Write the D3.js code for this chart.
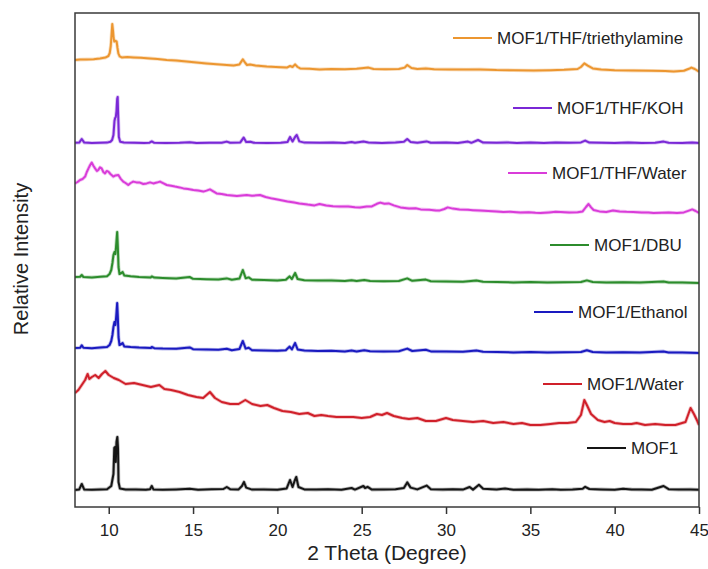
<!DOCTYPE html>
<html>
<head>
<meta charset="utf-8">
<script src="https://cdn.jsdelivr.net/npm/d3@7"></script>
<style>
  html, body { margin: 0; padding: 0; background: #fff; }
  svg { display: block; font-family: "Liberation Sans", Arial, Helvetica, sans-serif; }
</style>
</head>
<body>
<svg id="chart" width="708" height="569"></svg>
<script>
// Stacked powder XRD patterns, [2θ (deg), relative intensity (a.u.)]
const mof1 = [[8,0],[8.25,0.3],[8.4,3],[8.55,0.2],[9,0.1],[9.5,0.3],[9.9,0.4],[10.15,2],[10.28,8],[10.33,21],[10.38,21.5],[10.42,14],[10.46,24],[10.51,26.5],[10.55,21],[10.58,4],[10.66,0.8],[11,0.2],[11.6,0.3],[12.2,0.1],[12.45,0.4],[12.55,2],[12.65,0.3],[13.2,0.1],[14,0.3],[14.8,0.6],[15.3,0.1],[16.1,0.4],[16.8,0.5],[17.0,1.5],[17.2,0.4],[17.7,0.3],[17.9,2],[18.02,4],[18.15,1.2],[18.5,0.2],[19.2,0.3],[20,0.1],[20.55,0.8],[20.75,5],[20.9,1.5],[21.02,4.5],[21.12,6.5],[21.25,1.5],[21.6,0.3],[22.3,0.2],[23,0.4],[23.8,0.1],[24.4,1],[24.6,0.2],[25.1,2],[25.2,1],[25.35,1.6],[25.6,0.2],[26.3,0.3],[27,0.4],[27.5,1],[27.7,3.8],[27.9,1.2],[28.3,0.3],[28.85,2.2],[29.1,0.4],[29.8,0.2],[30.4,0.4],[31,0.2],[31.4,1.5],[31.6,0.2],[31.95,2.6],[32.2,0.6],[33,0.3],[33.5,0.7],[34,0.1],[34.8,0.3],[35.5,0.1],[36.3,0.4],[36.8,0.1],[37.5,0.3],[38.1,0.6],[38.25,1.6],[38.5,0.5],[39.2,0.3],[40,0.1],[40.5,0.6],[41,0.3],[41.6,0.2],[42.2,0.1],[42.9,2],[43.2,0.4],[43.8,0.2],[44.5,0.3],[45,0.1]];

const mof1Water = [[8,16.5],[8.2,18],[8.4,20.5],[8.6,23],[8.75,26],[8.85,23.5],[9,24.5],[9.2,25.5],[9.4,24],[9.6,26],[9.8,27.5],[10,25.5],[10.3,24],[10.6,23],[11,21],[11.5,21.5],[12,20.5],[12.5,19.5],[13,20.5],[13.3,18.5],[13.7,18],[14.2,17],[14.7,15.5],[15.2,14.5],[15.6,14],[16,17],[16.3,14],[16.7,12],[17.2,11],[17.7,11],[18.1,13],[18.5,11],[19,10],[19.4,10.5],[19.8,9],[20.3,7.5],[20.8,7],[21.3,6],[21.8,6.5],[22.2,5],[22.6,5.5],[23,5],[23.5,4.5],[24,4.5],[24.5,4.5],[25,4],[25.5,4.5],[25.9,6],[26.2,5.5],[26.5,6.5],[26.9,5],[27.4,4],[27.8,3.5],[28.3,4],[28.8,2.5],[29.4,2.5],[30,4],[30.4,3],[31,2.5],[31.6,2],[32.2,2.5],[32.8,1.5],[33.4,2],[34,1],[34.5,1.5],[35,0.5],[35.6,0.5],[36.2,1],[36.7,1.5],[37.2,1.5],[37.7,2],[38,5.5],[38.2,13],[38.35,10.5],[38.6,6],[39,3],[39.4,2],[39.7,2.5],[40,1.5],[40.5,1],[41,1],[41.3,1.5],[41.8,0.5],[42.4,1],[43,0.5],[43.6,0.5],[44.2,2],[44.5,9],[44.7,6],[44.9,2.5],[45,0.5]];

const mof1Ethanol = [[8,2.5],[8.3,2.6],[8.4,3.8],[8.5,2.6],[9,2.4],[9.5,2.7],[9.9,3],[10.05,4],[10.15,6],[10.22,9],[10.28,13],[10.34,15.5],[10.4,14],[10.45,19],[10.5,25],[10.54,18],[10.58,8],[10.64,4],[10.75,4.5],[10.82,5],[10.92,3.3],[11.3,3],[11.8,2.7],[12.5,2.5],[12.55,3],[12.7,2.4],[13.2,2.2],[14,2.1],[14.8,2.8],[15,1.9],[15.8,1.7],[16.5,1.6],[17,2.1],[17.3,1.4],[17.75,2],[17.95,6],[18.12,2.2],[18.3,2.6],[18.5,1.4],[19.2,1.3],[20,1.1],[20.5,1.4],[20.72,3.2],[20.86,1.8],[21.05,5],[21.2,1.8],[21.6,1.2],[22.4,1],[23.2,1.1],[24,0.8],[24.4,1.2],[24.7,0.8],[25.15,1.4],[25.5,0.9],[26.3,0.8],[27.2,0.9],[27.7,2.2],[28,1],[28.8,1.6],[29.1,0.8],[30,0.7],[31,0.6],[31.8,1.2],[32.2,0.6],[33,0.5],[34,0.3],[35,0.5],[36,0.3],[37,0.4],[38,0.5],[38.35,1.4],[38.7,0.5],[39.5,0.3],[40.5,0.4],[41.5,0.2],[42.9,0.8],[43.2,0.3],[44,0.2],[45,0]];

const mof1DBU = [[8,3],[8.3,3.1],[8.4,4],[8.5,3],[9,2.8],[9.5,3.1],[9.9,3.4],[10.05,4.5],[10.15,6.5],[10.22,10],[10.28,14],[10.34,15.5],[10.4,14.5],[10.45,20],[10.5,25.5],[10.54,18],[10.58,8],[10.64,4.5],[10.75,5],[10.82,5.5],[10.92,3.8],[11.3,3.4],[11.8,3],[12.5,2.8],[12.55,3.3],[12.7,2.7],[13.2,2.5],[14,2.3],[14.8,3],[15,2.1],[15.8,1.9],[16.5,1.8],[17,2.3],[17.3,1.6],[17.75,2.2],[17.95,6.5],[18.12,2.4],[18.3,2.8],[18.5,1.6],[19.2,1.5],[20,1.3],[20.5,1.6],[20.72,3.3],[20.86,2],[21.05,5],[21.2,2],[21.6,1.4],[22.4,1.2],[23.2,1.3],[24,1],[24.4,1.4],[24.7,1],[25.15,1.5],[25.5,1],[26.3,0.9],[27.2,1],[27.7,2.3],[28,1.1],[28.8,1.7],[29.1,0.9],[30,0.8],[31,0.6],[31.8,1.2],[32.2,0.6],[33,0.5],[34,0.3],[35,0.5],[36,0.3],[37,0.4],[38,0.5],[38.35,1.3],[38.7,0.5],[39.5,0.3],[40.5,0.4],[41.5,0.2],[42.9,0.7],[43.2,0.3],[44,0.2],[45,0]];

const mof1ThfWater = [[8,14.8],[8.15,15.5],[8.3,16.5],[8.45,17],[8.6,18.2],[8.7,20.5],[8.8,22.3],[8.9,24],[8.99,25.2],[9.1,23.5],[9.19,22.3],[9.3,21],[9.38,21.5],[9.48,22.8],[9.58,22.3],[9.68,20.5],[9.78,19.8],[9.88,21],[9.98,20.7],[10.1,19.5],[10.27,18.2],[10.4,18.8],[10.57,19],[10.7,17.2],[10.86,15.7],[11,15],[11.16,14],[11.3,15],[11.45,15.7],[11.65,15.3],[11.85,15.2],[12.05,14.5],[12.25,14.8],[12.45,15.3],[12.64,14.8],[12.85,15.2],[13.04,15.7],[13.25,14.8],[13.44,14],[13.7,13.6],[13.93,13.2],[14.2,12.8],[14.43,12.3],[14.7,12],[15.02,11.5],[15.3,11.2],[15.61,10.7],[15.8,11.2],[16,11.8],[16.2,10.8],[16.4,9.8],[16.7,9.5],[17,9],[17.3,8.8],[17.6,8.5],[17.9,8.8],[18.18,9],[18.5,8.6],[18.97,9],[19.3,8],[19.7,7.2],[20.16,6.5],[20.6,5.8],[21,5.3],[21.3,4.8],[21.8,4.2],[22.2,3.8],[22.5,4.5],[22.9,3.8],[23.3,3.4],[23.7,3.2],[24.2,3.3],[24.6,2.9],[24.9,2.8],[25.3,3.2],[25.6,3.3],[25.9,4.6],[26.1,5.2],[26.35,4.6],[26.6,4.8],[26.9,3.8],[27.3,2.8],[27.8,2.3],[28.2,2.4],[28.5,1.8],[29,1.6],[29.4,1.3],[29.6,1.2],[29.9,2],[30.1,2.8],[30.4,2.2],[30.8,1.8],[31.3,1.6],[31.6,1.4],[32,1.2],[32.5,1],[33,0.8],[33.4,0.5],[33.8,0.6],[34.4,0.2],[34.9,0.4],[35.3,0.1],[35.6,0],[36.1,0.3],[36.5,0.6],[36.8,0.5],[37.3,0.3],[37.8,0.4],[38.1,0.8],[38.3,3],[38.45,4.5],[38.6,2.8],[38.75,1.5],[39.1,0.8],[39.5,0.5],[39.9,1.2],[40.3,0.8],[40.7,0.6],[41.1,0.5],[41.6,0.3],[42,0.2],[42.3,0],[42.8,0.1],[43.2,0.2],[43.7,0],[44.1,0.3],[44.4,1.2],[44.6,1.8],[44.8,1],[45,0]];

const mof1ThfKOH = [[8,0.1],[8.25,0.2],[8.4,2],[8.55,0.2],[9,0],[9.5,0.1],[9.9,0.2],[10.1,0.6],[10.2,1.5],[10.28,4],[10.34,11],[10.38,12.5],[10.42,13],[10.46,16],[10.5,22],[10.53,23],[10.56,14],[10.6,3],[10.68,0.6],[10.9,0.2],[11.5,0.1],[12.1,0],[12.4,0.1],[12.55,0.8],[12.7,0.1],[13.4,0],[14.2,0.1],[14.8,0.4],[15.2,0],[16,0.1],[16.7,0.1],[17,0.7],[17.2,0.1],[17.8,0.3],[18,2.7],[18.15,0.5],[18.4,0.6],[18.6,0.1],[19.4,0],[20.2,0.1],[20.6,0.5],[20.75,3],[20.9,0.8],[21.05,3],[21.15,4],[21.3,0.8],[21.6,0.2],[22.5,0.1],[23.3,0.2],[24,0],[24.4,0.5],[24.6,0.1],[25.1,0.7],[25.4,0.2],[26.2,0],[27,0.3],[27.5,0.6],[27.7,2],[27.9,0.5],[28.3,0.1],[28.85,0.8],[29.1,0.1],[30,0.2],[30.7,0],[31.3,0.7],[31.5,0.1],[31.9,1.5],[32.2,0.2],[33,0.1],[33.6,0.3],[34.2,0],[35,0.2],[35.8,0],[36.5,0.2],[37.3,0.1],[38,0.3],[38.25,1.2],[38.5,0.2],[39.2,0.1],[40,0],[40.8,0.2],[41.6,0],[42.4,0.1],[42.9,0.7],[43.2,0.1],[44,0],[44.6,0.2],[45,0]];

const mof1ThfTEA = [[8,6],[8.3,6.2],[8.69,6.3],[9.1,6.4],[9.48,6.8],[9.8,7.2],[9.98,8],[10.06,9.5],[10.12,13],[10.17,19],[10.21,24],[10.25,21],[10.29,17],[10.33,15.2],[10.4,15.6],[10.47,15.2],[10.52,12],[10.57,9.3],[10.65,7.8],[10.77,7.3],[11.1,7.5],[11.46,7.3],[11.9,7.1],[12.45,6.8],[12.9,6.5],[13.44,6],[14,5.7],[14.62,5.2],[15.2,4.8],[15.8,4.3],[16.4,3.9],[17,3.5],[17.4,3.3],[17.75,3.8],[17.95,6.3],[18.1,4.5],[18.2,3.5],[18.38,3.8],[18.7,3.2],[19.37,2.7],[19.9,2.5],[20.56,2.2],[20.75,3],[20.9,2.5],[21.05,3.8],[21.2,2.5],[21.35,1.8],[21.9,1.6],[22.5,1.3],[23.2,1.5],[24,1.4],[24.7,1.6],[25.4,2.2],[25.7,1.5],[26.4,1.4],[27.2,1.5],[27.55,2.2],[27.7,3.5],[27.95,2],[28.3,1.5],[28.8,1.8],[29.3,1.4],[30.2,1.3],[31.2,1.2],[32,1.3],[33,1],[34,0.9],[35.2,0.7],[36.2,0.9],[37,1.1],[37.8,1.5],[38,2.5],[38.2,4.3],[38.4,3.2],[38.7,1.8],[39.2,1.2],[40,0.9],[41.1,0.7],[42.2,0.6],[43,0.5],[43.5,0.3],[44.1,0.6],[44.4,1.6],[44.55,2.2],[44.75,1.5],[45,0.2]];

// Series, bottom to top
const seriesNames = ["MOF1", "MOF1/Water", "MOF1/Ethanol", "MOF1/DBU", "MOF1/THF/Water", "MOF1/THF/KOH", "MOF1/THF/triethylamine"];
const seriesData = [mof1, mof1Water, mof1Ethanol, mof1DBU, mof1ThfWater, mof1ThfKOH, mof1ThfTEA];
// Vertical stacking offset of each pattern (a.u.)
const seriesOffsets = [8.5, 40.5, 77, 112, 147, 182, 217.5];
const seriesColors = ["#151515", "#d0202a", "#1a1ac0", "#2c8c2c", "#d93cd9", "#7a28d6", "#ec9630"];

const xTicks = [10, 15, 20, 25, 30, 35, 40, 45];
const xDomain = [8, 45];
const yDomain = [0, 247];

// Layout
const plot = { left: 75, top: 13, right: 699, bottom: 507 };
// Legend placement per series: start of the key line and its vertical centre
const legendPos = [
  { x: 587, y: 448 },
  { x: 543, y: 384 },
  { x: 534, y: 312 },
  { x: 550, y: 245 },
  { x: 508, y: 173 },
  { x: 513, y: 108 },
  { x: 453, y: 38 }
];
const keyLen = 39, keyGap = 5;

const svg = d3.select("#chart");

const x = d3.scaleLinear().domain(xDomain).range([plot.left, plot.right]);
const y = d3.scaleLinear().domain(yDomain).range([plot.bottom, plot.top]);

svg.append("defs").append("clipPath").attr("id", "plot-clip")
  .append("rect")
  .attr("x", plot.left).attr("y", plot.top)
  .attr("width", plot.right - plot.left).attr("height", plot.bottom - plot.top);

// Patterns: a faint wider stroke under each trace gives the measured-noise thickness
const g = svg.append("g").attr("clip-path", "url(#plot-clip)");
seriesData.forEach((data, i) => {
  const off = seriesOffsets[i];
  const line = d3.line()
    .x(d => x(d[0]))
    .y(d => y(d[1] + off));
  g.append("path")
    .datum(data)
    .attr("d", line)
    .attr("fill", "none")
    .attr("stroke", seriesColors[i])
    .attr("stroke-opacity", 0.3)
    .attr("stroke-width", 3.6)
    .attr("stroke-linejoin", "round");
  g.append("path")
    .datum(data)
    .attr("d", line)
    .attr("fill", "none")
    .attr("stroke", seriesColors[i])
    .attr("stroke-width", 2)
    .attr("stroke-linejoin", "round");
});

// Bottom axis
const xAxis = d3.axisBottom(x).tickValues(xTicks).tickSize(7).tickPadding(10).tickFormat(d3.format("d"));
const ax = svg.append("g")
  .attr("transform", `translate(0,${plot.bottom})`)
  .call(xAxis);
ax.select(".domain").remove();
ax.selectAll(".tick line").attr("stroke", "#333").attr("stroke-width", 1.5);
ax.selectAll(".tick text").attr("fill", "#222").style("font-size", "17px")
  .style("font-family", "'Liberation Sans', Arial, sans-serif");

// Frame
svg.append("rect")
  .attr("x", plot.left).attr("y", plot.top)
  .attr("width", plot.right - plot.left).attr("height", plot.bottom - plot.top)
  .attr("fill", "none").attr("stroke", "#3a3a3a").attr("stroke-width", 1.5);

// Axis titles
svg.append("text")
  .attr("x", (plot.left + plot.right) / 2).attr("y", 560)
  .attr("text-anchor", "middle")
  .attr("fill", "#222")
  .style("font-size", "21px")
  .text("2 Theta (Degree)");

svg.append("text")
  .attr("transform", `translate(28,259) rotate(-90)`)
  .attr("text-anchor", "middle")
  .attr("fill", "#222")
  .style("font-size", "20px")
  .text("Relative Intensity");

// Legend keys
const lg = svg.append("g");
seriesNames.forEach((name, i) => {
  const p = legendPos[i];
  lg.append("line")
    .attr("x1", p.x).attr("x2", p.x + keyLen)
    .attr("y1", p.y).attr("y2", p.y)
    .attr("stroke", seriesColors[i]).attr("stroke-width", 2);
  lg.append("text")
    .attr("x", p.x + keyLen + keyGap).attr("y", p.y)
    .attr("dy", "0.36em")
    .attr("fill", "#222")
    .style("font-size", "17px")
    .text(name);
});
</script>
</body>
</html>
